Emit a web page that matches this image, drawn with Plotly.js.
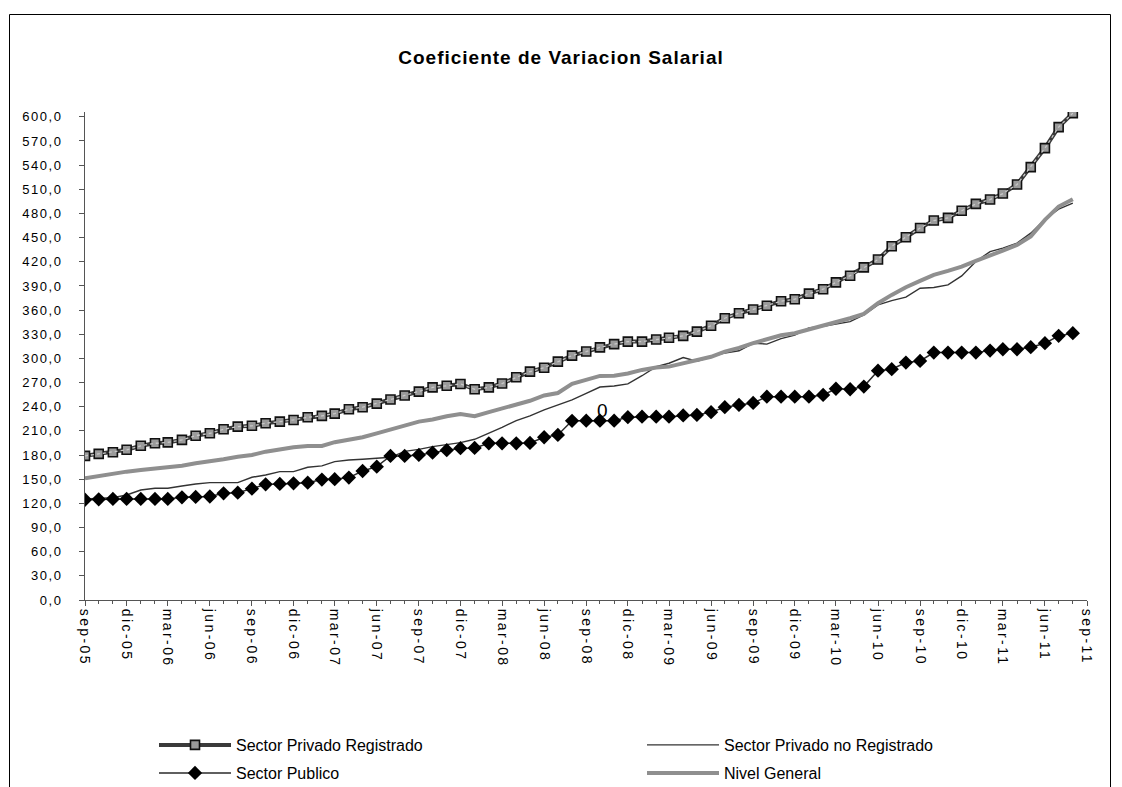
<!DOCTYPE html>
<html>
<head>
<meta charset="utf-8">
<script src="https://cdn.plot.ly/plotly-3.0.1.min.js"></script>
<style>
  html, body { margin: 0; padding: 0; background: #fff; }
  #chart { width: 1122px; height: 787px; }
  #chart .xtick text { letter-spacing: 2.4px; }
  #chart .ytick text { letter-spacing: 1.5px; }
  #chart .gtitle { letter-spacing: 1px; }
</style>
</head>
<body>
<div id="chart"></div>
<script>
// Monthly observations, sep-05 .. aug-11
const startYear = 2005, startMonth = 9, nMonths = 72;
const months = [];
for (let i = 0; i < nMonths; i++) {
  const m = (startMonth - 1 + i) % 12 + 1;
  const y = startYear + Math.floor((startMonth - 1 + i) / 12);
  months.push(y + '-' + String(m).padStart(2, '0') + '-01');
}

const privadoRegistrado = [
  179.0, 181.4, 183.5, 186.5, 191.5, 194.6, 195.7, 198.8, 204.0, 207.0, 212.0, 215.3,
  216.3, 219.5, 221.5, 223.6, 227.0, 228.6, 231.5, 236.9, 239.4, 243.8, 249.0, 254.0,
  258.8, 264.0, 266.0, 268.3, 261.7, 264.0, 268.8, 276.6, 283.6, 288.5, 296.0, 303.5,
  308.5, 313.7, 317.8, 320.9, 320.9, 323.5, 325.7, 328.0, 333.3, 340.6, 349.9, 356.1,
  360.8, 365.4, 371.0, 373.5, 380.5, 385.9, 394.4, 402.7, 413.0, 422.8, 439.3, 450.5,
  462.0, 471.2, 474.5, 483.4, 491.9, 497.3, 504.7, 516.0, 537.5, 561.1, 587.2, 604.6
];
const privadoNoRegistrado = [
  125.5, 126.0, 127.0, 130.4, 136.6, 138.7, 138.7, 141.6, 144.1, 145.7, 145.7, 145.7,
  152.4, 155.3, 159.4, 159.4, 164.8, 166.5, 171.8, 173.9, 174.8, 176.0, 177.2, 184.5,
  187.0, 190.5, 193.4, 195.4, 199.6, 207.0, 214.5, 222.7, 228.6, 236.0, 242.2, 248.4,
  256.7, 264.5, 265.8, 268.3, 278.5, 289.8, 294.0, 301.0, 296.5, 301.5, 306.8, 309.5,
  318.8, 317.8, 324.6, 329.0, 337.8, 340.0, 342.7, 345.7, 354.0, 366.5, 371.8, 376.0,
  387.2, 388.0, 391.3, 402.5, 420.3, 432.7, 436.9, 443.1, 455.5, 472.9, 485.3, 492.8
];
const sectorPublico = [
  124.5, 125.0, 125.5, 125.5, 125.5, 125.5, 125.5, 127.5, 128.0, 128.5, 132.5, 133.3,
  138.3, 143.7, 144.1, 144.9, 145.7, 149.5, 150.0, 152.0, 160.2, 165.6, 178.9, 178.9,
  180.1, 183.0, 186.0, 188.5, 188.8, 194.6, 194.6, 194.6, 195.0, 202.1, 205.0, 222.5,
  222.7, 222.7, 222.7, 227.0, 227.7, 227.7, 227.7, 229.2, 229.8, 233.3, 239.4, 242.2,
  244.7, 252.5, 252.5, 252.5, 252.5, 254.7, 262.3, 261.7, 265.0, 284.8, 286.6, 294.8,
  296.9, 307.2, 307.2, 307.2, 307.2, 309.7, 311.4, 311.4, 313.9, 318.9, 328.0, 331.3
];
const nivelGeneral = [
  151.0, 154.0, 157.3, 159.4, 161.5, 163.6, 164.4, 166.8, 169.8, 171.8, 174.8, 178.0,
  180.1, 184.2, 187.2, 189.7, 191.3, 191.3, 196.0, 198.8, 202.1, 207.0, 212.0, 216.5,
  221.5, 224.2, 228.2, 230.8, 228.2, 233.3, 237.5, 242.3, 247.4, 254.0, 257.0, 268.3,
  273.5, 278.3, 278.5, 281.2, 285.7, 288.8, 289.8, 294.0, 297.5, 302.0, 308.5, 313.0,
  319.0, 323.6, 328.8, 331.2, 335.8, 340.6, 345.0, 349.9, 355.3, 368.6, 378.9, 388.4,
  396.3, 403.7, 408.7, 414.0, 421.1, 427.3, 433.9, 441.0, 451.3, 472.0, 488.6, 497.7
];

const tickDates = [
  '2005-09-01','2005-12-01','2006-03-01','2006-06-01','2006-09-01','2006-12-01',
  '2007-03-01','2007-06-01','2007-09-01','2007-12-01','2008-03-01','2008-06-01',
  '2008-09-01','2008-12-01','2009-03-01','2009-06-01','2009-09-01','2009-12-01',
  '2010-03-01','2010-06-01','2010-09-01','2010-12-01','2011-03-01','2011-06-01','2011-09-01'
];
const tickLabels = [
  'sep-05','dic-05','mar-06','jun-06','sep-06','dic-06',
  'mar-07','jun-07','sep-07','dic-07','mar-08','jun-08',
  'sep-08','dic-08','mar-09','jun-09','sep-09','dic-09',
  'mar-10','jun-10','sep-10','dic-10','mar-11','jun-11','sep-11'
];
const yTicks = [];
for (let v = 0; v <= 600; v += 30) yTicks.push(v);

const seriesNames = ['Sector Privado Registrado', 'Sector Privado no Registrado', 'Sector Publico', 'Nivel General'];
const labelIndex = 37;      // month carrying the stray "0" data label
const labelText = '0';

const FONT = 'Liberation Sans, Arial, sans-serif';

const traces = [
  {
    x: months, y: privadoNoRegistrado, name: seriesNames[1], type: 'scatter', mode: 'lines',
    line: { color: '#333333', width: 1.4 }, legend: 'legend2'
  },
  {
    x: months, y: nivelGeneral, name: seriesNames[3], type: 'scatter', mode: 'lines',
    line: { color: '#8f8f8f', width: 4 }, legend: 'legend4'
  },
  {
    x: months, y: sectorPublico, name: seriesNames[2], type: 'scatter', mode: 'lines+markers',
    line: { color: '#2a2a2a', width: 1.5 },
    marker: { symbol: 'diamond', size: 11, color: '#000000', line: { width: 0 } },
    legend: 'legend3'
  },
  {
    x: months, y: privadoRegistrado, name: seriesNames[0], type: 'scatter', mode: 'lines+markers',
    line: { color: '#3a3a3a', width: 4 },
    marker: { symbol: 'square', size: 9, color: '#9a9a9a', line: { color: '#111111', width: 1.6 } },
    legend: 'legend'
  },
  {
    x: months, y: privadoRegistrado, type: 'scatter', mode: 'lines', showlegend: false, hoverinfo: 'skip',
    line: { color: '#c8c8c8', width: 1.3, dash: 'dot' }
  }
];

const L = 85, R = 35, T = 112, B = 187, W = 1122, H = 787;
const pw = W - L - R, ph = H - T - B;
const px2x = p => (p - L) / pw;
const py2y = p => (H - B - p) / ph;

function legendAt(px, py) {
  return {
    orientation: 'h', xref: 'container', yref: 'container',
    x: px / W, xanchor: 'left', y: 1 - py / H, yanchor: 'middle',
    itemwidth: 72,
    font: { family: FONT, size: 16, color: '#000000' },
    bgcolor: 'rgba(0,0,0,0)', borderwidth: 0
  };
}

const layout = {
  width: W, height: H,
  margin: { l: L, r: R, t: T, b: B, pad: 0, autoexpand: false },
  paper_bgcolor: '#ffffff', plot_bgcolor: '#ffffff',
  separators: ',.',
  font: { family: FONT, color: '#000000', size: 14 },
  title: {
    text: '<b>Coeficiente de Variacion Salarial</b>',
    font: { family: FONT, size: 19, color: '#000000' },
    x: 0.5, xref: 'container', xanchor: 'center',
    y: 1 - 57 / H, yref: 'container', yanchor: 'middle'
  },
  showlegend: true,
  xaxis: {
    type: 'date',
    range: ['2005-09-01', '2011-09-01'],
    tickmode: 'array', tickvals: tickDates, ticktext: tickLabels,
    tickangle: 90, automargin: false,
    ticks: 'outside', ticklen: 5, tickcolor: '#555555', tickwidth: 1,
    minor: { ticks: 'outside', ticklen: 3, tickcolor: '#555555', dtick: 'M1', tick0: '2005-09-01', showgrid: false },
    tickfont: { family: FONT, size: 14, color: '#000000' },
    showline: true, linecolor: '#555555', linewidth: 1,
    showgrid: false, zeroline: false, fixedrange: true
  },
  yaxis: {
    range: [0, 606], automargin: false,
    tickmode: 'array', tickvals: yTicks,
    tickformat: '.1f',
    ticks: 'outside', ticklen: 5, tickcolor: '#555555', tickwidth: 1,
    ticklabelstandoff: 14,
    tickfont: { family: FONT, size: 13, color: '#000000' },
    showline: true, linecolor: '#555555', linewidth: 1,
    showgrid: false, zeroline: false, fixedrange: true
  },
  legend: legendAt(154, 745),
  legend2: legendAt(642, 745),
  legend3: legendAt(154, 773),
  legend4: legendAt(642, 773),
  annotations: [{
    x: months[labelIndex], y: sectorPublico[labelIndex], xref: 'x', yref: 'y',
    text: labelText, showarrow: false, yshift: 10, xshift: 3, yanchor: 'middle',
    font: { family: FONT, size: 19, color: '#000000' }
  }],
  shapes: [{
    type: 'rect', xref: 'paper', yref: 'paper',
    x0: px2x(9.5), x1: px2x(1110.5), y0: py2y(820), y1: py2y(14.5),
    line: { color: '#000000', width: 1 }, fillcolor: 'rgba(0,0,0,0)', layer: 'above'
  }]
};

Plotly.newPlot('chart', traces, layout, { displayModeBar: false, staticPlot: true });
</script>
</body>
</html>
